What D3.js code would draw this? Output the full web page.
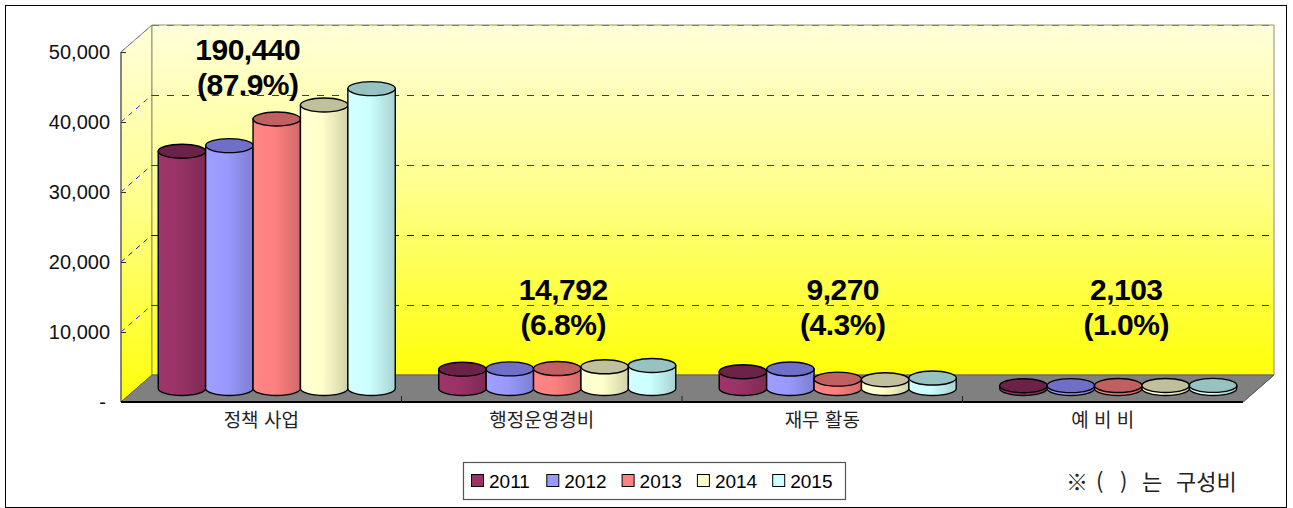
<!DOCTYPE html>
<html lang="ko">
<head>
<meta charset="utf-8">
<title>budget-chart</title>
<script src="https://cdn.jsdelivr.net/npm/d3@7"></script>
<style>
    body { margin: 0; background: #fff; }
    svg { display: block; }
    .tick-label { font-family: Arial, "Liberation Sans", sans-serif; font-size: 20px; fill: #111; }
    .cat-label { font-family: "Noto Sans CJK KR", sans-serif; font-size: 19px; fill: #222; }
    .data-label { font-family: "Liberation Sans", Arial, sans-serif; font-size: 30px; font-weight: 700; fill: #000; letter-spacing: -0.5px; }
    .legend-label { font-family: Arial, "Liberation Sans", sans-serif; font-size: 19px; fill: #000; }
    .note { font-family: "Noto Sans CJK KR", sans-serif; font-size: 22px; fill: #222; }
</style>
</head>
<body>
<svg id="canvas" width="1293" height="508"></svg>
<script>
    // ---- data ----
    const categories = ["정책 사업", "행정운영경비", "재무 활동", "예 비 비"]
    const years = ["2011", "2012", "2013", "2014", "2015"]
    const v2011 = [33900, 2750, 2400, 400]
    const v2012 = [34700, 2800, 2780, 410]
    const v2013 = [38500, 2850, 1340, 420]
    const v2014 = [40500, 3100, 1260, 430]
    const v2015 = [42840, 3292, 1490, 443]
    const totals = ["190,440", "14,792", "9,270", "2,103"]
    const shares = ["(87.9%)", "(6.8%)", "(4.3%)", "(1.0%)"]
    const yTicks = [0, 10000, 20000, 30000, 40000, 50000]

    const series = [v2011, v2012, v2013, v2014, v2015]
    const sideColors = ["#993366", "#9999FF", "#FF8080", "#FFFFCC", "#CCFFFF"]
    const topColors = ["#6B2148", "#6F6FC8", "#C06060", "#C0C09C", "#96C2C2"]

    const svg = d3.select("#canvas")

    // plot geometry (front plane + depth offset)
    const x0 = 121, x1 = 1243, yTop = 52, yBase = 402
    const dx = 31, dy = -27

    const y = d3.scaleLinear().domain([0, 50000]).range([yBase, yTop])
    const xCat = d3.scaleBand().domain(categories).range([x0, x1])
    // bars fill ~84.5% of each category, no gap between them
    const barSpan = xCat.bandwidth() * 0.845
    const barOff = (xCat.bandwidth() - barSpan) / 2
    const xBar = d3.scaleBand().domain(years).range([0, barSpan])

    // ---- defs: gradients ----
    const defs = svg.append("defs")
    const wallGrad = defs.append("linearGradient").attr("id", "wall")
        .attr("x1", 0).attr("y1", 0).attr("x2", 0).attr("y2", 1)
    wallGrad.append("stop").attr("offset", "0%").attr("stop-color", "#FFFFDA")
    wallGrad.append("stop").attr("offset", "45%").attr("stop-color", "#FFFF90")
    wallGrad.append("stop").attr("offset", "100%").attr("stop-color", "#FFFF08")

    sideColors.forEach((c, i) => {
        const g = defs.append("linearGradient").attr("id", "bar" + i)
            .attr("x1", 0).attr("y1", 0).attr("x2", 1).attr("y2", 0)
        const base = d3.color(c)
        g.append("stop").attr("offset", "0%").attr("stop-color", base.brighter(0.1))
        g.append("stop").attr("offset", "45%").attr("stop-color", base)
        g.append("stop").attr("offset", "100%").attr("stop-color", base.darker(0.55))
    })

    // ---- frame ----
    svg.append("rect").attr("x", 5.5).attr("y", 5.5).attr("width", 1281).attr("height", 502)
        .attr("fill", "#fff").attr("stroke", "#000").attr("stroke-width", 1)

    // ---- walls ----
    const walls = svg.append("g")
    walls.append("path")
        .attr("d", `M${x0},${yTop} L${x0 + dx},${yTop + dy} L${x0 + dx},${yBase + dy} L${x0},${yBase} Z`)
        .attr("fill", "url(#wall)").attr("stroke", "#808080")
    walls.append("path")
        .attr("d", `M${x0 + dx},${yTop + dy} L${x1 + dx},${yTop + dy} L${x1 + dx},${yBase + dy} L${x0 + dx},${yBase + dy} Z`)
        .attr("fill", "url(#wall)").attr("stroke", "#909070")
    // floor
    walls.append("path")
        .attr("d", `M${x0},${yBase} L${x0 + dx},${yBase + dy} L${x1 + dx},${yBase + dy} L${x1},${yBase} Z`)
        .attr("fill", "#808080").attr("stroke", "#606060")

    // gridlines on walls (half-pixel offset keeps them crisp)
    yTicks.filter(t => t > 0).forEach(t => {
        const col = t === 20000 ? "#0A0A9A" : (t === 50000 ? "#7070C0" : "#2828FF")
        walls.append("line")
            .attr("x1", x0 + dx).attr("x2", x1 + dx)
            .attr("y1", y(t) + dy + 0.5).attr("y2", y(t) + dy + 0.5)
            .attr("stroke", col).attr("stroke-dasharray", "7,8")
        walls.append("line")
            .attr("x1", x0).attr("x2", x0 + dx)
            .attr("y1", y(t)).attr("y2", y(t) + dy)
            .attr("stroke", col).attr("stroke-dasharray", "5,5")
    })

    // y axis
    walls.append("line").attr("x1", x0).attr("x2", x0).attr("y1", yTop).attr("y2", yBase)
        .attr("stroke", "#707070").attr("stroke-width", 1.5)
    yTicks.forEach(t => {
        walls.append("line").attr("x1", x0).attr("x2", x0 + 5).attr("y1", y(t) + 0.5).attr("y2", y(t) + 0.5)
            .attr("stroke", "#333")
        walls.append("text").attr("class", "tick-label")
            .attr("x", t === 0 ? 106 : 110).attr("y", y(t)).attr("dy", "0.36em")
            .attr("text-anchor", "end")
            .text(t === 0 ? "-" : d3.format(",")(t))
    })

    // front floor edge + category ticks
    walls.append("line").attr("x1", x0).attr("x2", x1).attr("y1", yBase).attr("y2", yBase)
        .attr("stroke", "#000").attr("stroke-width", 2)
    walls.append("line").attr("x1", x1).attr("x2", x1 + dx).attr("y1", yBase).attr("y2", yBase + dy)
        .attr("stroke", "#606060")
    categories.slice(1).forEach(c => {
        walls.append("line").attr("x1", xCat(c)).attr("x2", xCat(c))
            .attr("y1", yBase - 6).attr("y2", yBase).attr("stroke", "#222")
    })

    // ---- cylinders ----
    const ry = 7
    const bars = svg.append("g")
    categories.forEach((c, ci) => {
        years.forEach((yr, si) => {
            const v = series[si][ci]
            const left = xCat(c) + barOff + xBar(yr) + dx / 2
            const w = xBar.bandwidth()
            const rx = w / 2
            const yb = y(0) + dy / 2
            const yt = y(v) + dy / 2
            const g = bars.append("g")
            g.append("path")
                .attr("d", `M${left},${yt} L${left},${yb} A${rx},${ry} 0 0 0 ${left + w},${yb} L${left + w},${yt} Z`)
                .attr("fill", `url(#bar${si})`)
                .attr("stroke", "#000").attr("stroke-width", 1.4)
            g.append("ellipse")
                .attr("cx", left + rx).attr("cy", yt).attr("rx", rx).attr("ry", ry)
                .attr("fill", topColors[si])
                .attr("stroke", "#000").attr("stroke-width", 1.4)
        })
    })

    // ---- category labels ----
    categories.forEach(c => {
        svg.append("text").attr("class", "cat-label")
            .attr("x", xCat(c) + xCat.bandwidth() / 2).attr("y", 427)
            .attr("text-anchor", "middle").attr("xml:space", "preserve")
            .text(c)
    })

    // ---- total labels (placed by hand in the original) ----
    const labelDx = [-29, 6, 5, 8]
    const labelBase = [60, 300, 300, 300]
    categories.forEach((c, ci) => {
        const cx = xCat(c) + xCat.bandwidth() / 2 + dx / 2 + labelDx[ci]
        svg.append("text").attr("class", "data-label").attr("text-anchor", "middle")
            .attr("x", cx).attr("y", labelBase[ci]).text(totals[ci])
        svg.append("text").attr("class", "data-label").attr("text-anchor", "middle")
            .attr("x", cx).attr("y", labelBase[ci] + 35).text(shares[ci])
    })

    // ---- legend ----
    const legend = svg.append("g")
    legend.append("rect").attr("x", 463.5).attr("y", 462.5).attr("width", 382).attr("height", 37)
        .attr("fill", "#fff").attr("stroke", "#555").attr("stroke-width", 1.2)
    years.forEach((yr, i) => {
        const lx = 471 + i * 75.3
        legend.append("rect").attr("x", lx + 0.5).attr("y", 474.5).attr("width", 12).attr("height", 12)
            .attr("fill", sideColors[i]).attr("stroke", "#000")
        legend.append("text").attr("class", "legend-label")
            .attr("x", lx + 18).attr("y", 488).text(yr)
    })

    // ---- note ----
    const note = svg.append("text").attr("class", "note").attr("y", 490)
    const noteParts = ["※", "(", ")", "는", "구성비"]
    const noteX = [1066, 1096, 1120, 1142, 1176]
    noteParts.forEach((p, i) => note.append("tspan").attr("x", noteX[i]).text(p))
</script>
</body>
</html>
